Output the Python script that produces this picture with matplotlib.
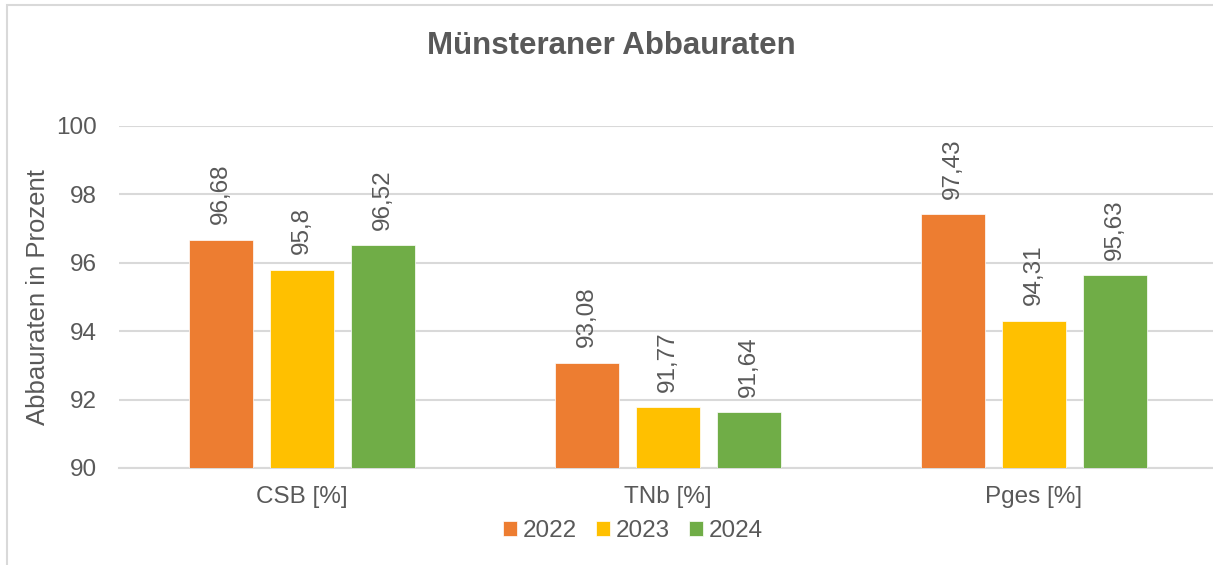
import numpy as np
import matplotlib.pyplot as plt
from matplotlib.patches import Rectangle

# ---------------- data ----------------
categories = ["CSB [%]", "TNb [%]", "Pges [%]"]
years = ["2022", "2023", "2024"]
values_2022 = [96.68, 93.08, 97.43]
values_2023 = [95.8, 91.77, 94.31]
values_2024 = [96.52, 91.64, 95.63]
colors = ["#ED7D31", "#FFC000", "#70AD47"]

series = [values_2022, values_2023, values_2024]
text_gray = "#595959"
grid_gray = "#D9D9D9"
fs = 17.5

plt.rcParams["font.family"] = ["Liberation Sans", "DejaVu Sans"]

fig = plt.figure(figsize=(12.13, 5.65), dpi=100)
ax = fig.add_axes([0.098, 0.1717, 0.902, 0.6053])

x = np.arange(len(categories))
bar_w = 0.175
step = 0.221

for i, (vals, year) in enumerate(zip(series, years)):
    pos = x + (i - 1) * step
    bars = ax.bar(pos, vals, width=bar_w, color=colors[i], label=year,
                  edgecolor="white", linewidth=0.5, zorder=3)
    for b, v in zip(bars, vals):
        ax.annotate(str(v).replace(".", ","),
                    (b.get_x() + b.get_width() / 2, v),
                    xytext=(0, 11), textcoords="offset points",
                    rotation=90, ha="center", va="bottom",
                    fontsize=fs, color=text_gray)

ax.set_ylim(90, 100)
ax.set_xlim(-0.5, 2.49)
ax.set_yticks([90, 92, 94, 96, 98, 100])
ax.set_xticks(x)
ax.set_xticklabels(categories)
ax.tick_params(axis="both", length=0, labelsize=fs, colors=text_gray)
ax.tick_params(axis="x", pad=13)
ax.tick_params(axis="y", pad=16)
ax.grid(axis="y", color=grid_gray, linewidth=1.5, zorder=0)
for s in ["top", "right", "left"]:
    ax.spines[s].set_visible(False)
ax.spines["bottom"].set_color(grid_gray)
ax.spines["bottom"].set_linewidth(1.5)
ax.set_ylabel("Abbauraten in Prozent", fontsize=18.5, color=text_gray, labelpad=4)

fig.text(0.504, 0.918, "Münsteraner Abbauraten", ha="center", va="center",
         fontsize=22.5, fontweight="bold", color=text_gray)

fig.legend(loc="center", bbox_to_anchor=(633 / 1213, 1 - 531 / 565),
           ncol=3, frameon=False, fontsize=fs, labelcolor=text_gray,
           handlelength=0.55, handleheight=0.55, handletextpad=0.25,
           columnspacing=0.8)

# outer chart border (only top and left visible in the crop)
fig.patches.append(Rectangle((0.0058, -0.1), 1.2, 1.091, transform=fig.transFigure,
                             fill=False, edgecolor=grid_gray, linewidth=1.5))

fig.savefig("out.png", dpi=100)
